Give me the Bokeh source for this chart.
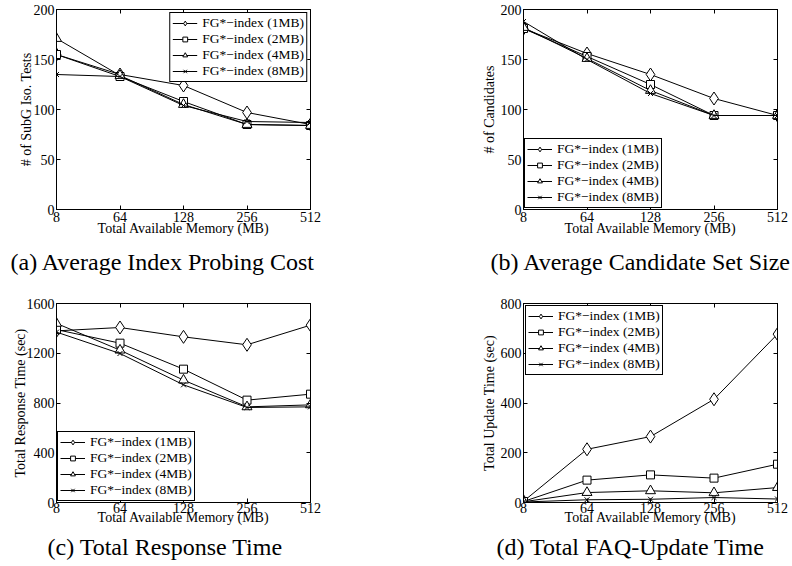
from bokeh.plotting import figure
from bokeh.models import Range1d, FixedTicker, LinearAxis, Legend, LegendItem
from bokeh.layouts import column, row
from bokeh.embed import file_html
from bokeh.resources import INLINE

# ---------------- data ----------------
memory = ["8", "64", "128", "256", "512"]
series_labels = ["FG*\u2212index (1MB)", "FG*\u2212index (2MB)",
                 "FG*\u2212index (4MB)", "FG*\u2212index (8MB)"]

# (a) Average Index Probing Cost  (# of SubG Iso. Tests)
probe_1mb = [155, 135, 124, 97, 85]
probe_2mb = [155, 133, 108, 85, 84]
probe_4mb = [171, 134, 105, 85, 84]
probe_8mb = [135, 133, 104, 88, 87]

# (b) Average Candidate Set Size (# of Candidates)
cand_1mb = [181, 156, 135, 111, 94]
cand_2mb = [181, 153, 125, 94, 94]
cand_4mb = [182, 151, 119, 94, 94]
cand_8mb = [188, 150, 116, 94, 94]

# (c) Total Response Time (sec)
resp_1mb = [1380, 1407, 1332, 1268, 1426]
resp_2mb = [1390, 1281, 1072, 823, 871]
resp_4mb = [1440, 1225, 984, 769, 785]
resp_8mb = [1370, 1198, 946, 764, 769]

# (d) Total Update Time (sec)
upd_1mb = [5, 214, 265, 415, 677]
upd_2mb = [4, 90, 111, 98, 154]
upd_4mb = [3, 40, 47, 39, 60]
upd_8mb = [2, 11, 13, 20, 14]

yticks_a = [0, 50, 100, 150, 200]
yticks_b = [0, 50, 100, 150, 200]
yticks_c = [0, 400, 800, 1200, 1600]
yticks_d = [0, 200, 400, 600, 800]

ylabel_a = "# of SubG Iso. Tests"
ylabel_b = "# of Candidates"
ylabel_c = "Total Response Time (sec)"
ylabel_d = "Total Update Time (sec)"

caption_a = "(a) Average Index Probing Cost"
caption_b = "(b) Average Candidate Set Size"
caption_c = "(c) Total Response Time"
caption_d = "(d) Total FAQ-Update Time"

# ---------------- style ----------------
FONT = "Liberation Serif"
markers = ["diamond", "square", "triangle", "x"]
marker_sizes = [13, 8, 10, 7]


def style_axis(ax, ticks, overrides=None, hidden=False):
    ax.ticker = FixedTicker(ticks=ticks)
    if overrides:
        ax.major_label_overrides = overrides
    ax.major_tick_in = 4
    ax.major_tick_out = 0
    ax.minor_tick_in = 0
    ax.minor_tick_out = 0
    ax.axis_line_color = "black"
    ax.major_tick_line_color = "black"
    ax.major_label_text_font = FONT
    ax.axis_label_text_font = FONT
    ax.axis_label_text_font_style = "normal"
    ax.axis_label_text_font_size = "14px"
    ax.axis_label_text_color = "black"
    if hidden:
        ax.major_label_text_font_size = "1px"
        ax.major_label_text_color = None
        ax.major_label_text_alpha = 0
        ax.major_label_standoff = 0
    else:
        ax.major_label_text_font_size = "14px"
        ax.major_label_text_color = "black"


def panel(series, yticks, ylabel, caption, legend_loc, legend_margin,
          left, right, top, bottom, fh, xtick_standoff, xlabel_standoff,
          ylabel_standoff, cap_offset, cap_standoff):
    xs = list(range(len(memory)))
    p = figure(frame_width=254, frame_height=fh,
               min_border_left=left, min_border_right=right,
               min_border_top=top, min_border_bottom=bottom,
               x_range=Range1d(xs[0], xs[-1]),
               y_range=Range1d(yticks[0], yticks[-1]),
               output_backend="svg", toolbar_location=None,
               title=caption, title_location="below")
    p.grid.visible = False
    p.outline_line_color = "black"
    p.outline_line_alpha = 1
    p.outline_line_width = 1
    p.background_fill_color = "white"
    p.border_fill_color = "white"

    items = []
    for ys, lab, m, s in zip(series, series_labels, markers, marker_sizes):
        ln = p.line(xs, ys, line_color="black", line_width=1)
        sc = p.scatter(xs, ys, marker=m, size=s, line_color="black",
                       fill_color="white", line_width=1)
        items.append(LegendItem(label=lab, renderers=[ln, sc]))

    overrides = {i: m for i, m in enumerate(memory)}
    xa = p.xaxis[0]
    style_axis(xa, xs, overrides)
    xa.axis_label = "Total Available Memory (MB)"
    xa.major_label_standoff = xtick_standoff
    xa.axis_label_standoff = xlabel_standoff

    ya = p.yaxis[0]
    style_axis(ya, yticks)
    ya.axis_label = ylabel
    ya.major_label_standoff = 2
    ya.axis_label_standoff = ylabel_standoff

    top_ax = LinearAxis()
    style_axis(top_ax, xs, hidden=True)
    p.add_layout(top_ax, "above")
    right_ax = LinearAxis()
    style_axis(right_ax, yticks, hidden=True)
    p.add_layout(right_ax, "right")

    legend = Legend(items=items, location=legend_loc, margin=legend_margin,
                    padding=2, spacing=0, label_text_font=FONT,
                    label_text_font_size="13.5px", label_text_color="black",
                    label_text_line_height=1.0,
                    label_height=12, glyph_height=12, glyph_width=25,
                    label_standoff=5, border_line_color="black",
                    border_line_width=1, border_line_alpha=1,
                    background_fill_color="white", background_fill_alpha=1)
    p.add_layout(legend)

    p.title.text_font = FONT
    p.title.text_font_size = "24px"
    p.title.text_font_style = "normal"
    p.title.text_color = "black"
    p.title.align = "left"
    p.title.offset = cap_offset
    p.title.standoff = cap_standoff
    return p


pa = panel([probe_1mb, probe_2mb, probe_4mb, probe_8mb], yticks_a, ylabel_a,
           caption_a, "top_right", 3, 56, 86, 9, 74, 200, 2, -4, -3, -46, 16)
pb = panel([cand_1mb, cand_2mb, cand_4mb, cand_8mb], yticks_b, ylabel_b,
           caption_b, "bottom_left", 1, 127, 15, 9, 74, 200, 2, -4, 1, -33, 16)
pc = panel([resp_1mb, resp_2mb, resp_4mb, resp_8mb], yticks_c, ylabel_c,
           caption_c, "bottom_left", 1, 56, 86, 20, 64, 199, 0, -6, -4, -9, 8)
pd = panel([upd_1mb, upd_2mb, upd_4mb, upd_8mb], yticks_d, ylabel_d,
           caption_d, "top_left", 2, 127, 15, 20, 64, 199, 0, -6, 1, -27, 8)

layout = column(row(pa, pb), row(pc, pd))

open("out.html", "w").write(file_html(layout, INLINE))
